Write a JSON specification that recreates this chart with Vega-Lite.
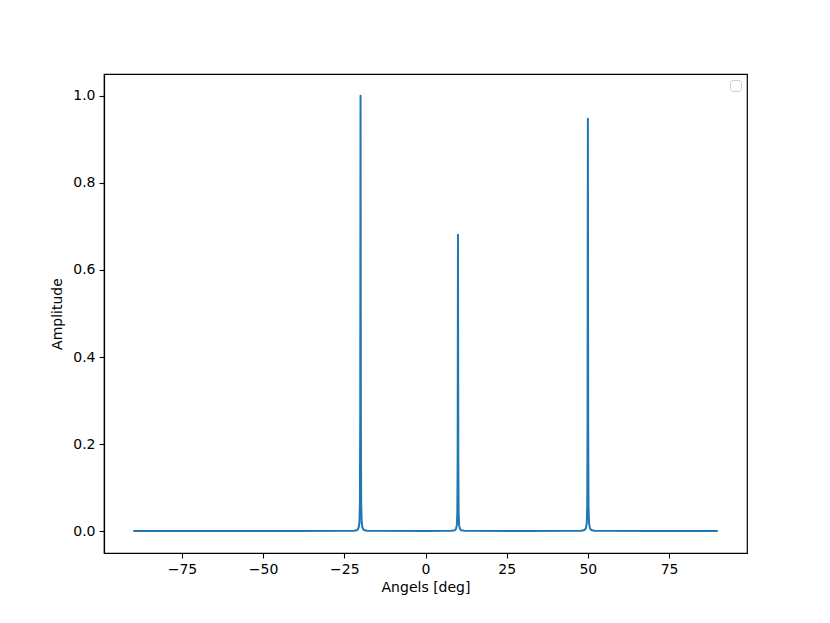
{
  "$schema": "https://vega.github.io/schema/vega-lite/v6.json",
  "autosize": "none",
  "width": 643,
  "height": 479,
  "padding": {"left": 104, "top": 74, "right": 83, "bottom": 70},
  "background": "white",
  "config": {
    "font": "DejaVu Sans",
    "view": {"stroke": "black", "strokeWidth": 1.2},
    "axis": {
      "grid": false,
      "domainColor": "black",
      "domainWidth": 1.2,
      "tickColor": "black",
      "tickWidth": 1.1,
      "tickSize": 5,
      "labelColor": "black",
      "labelFont": "DejaVu Sans",
      "labelFontSize": 14,
      "labelPadding": 4,
      "titleColor": "black",
      "titleFont": "DejaVu Sans",
      "titleFontSize": 14,
      "titleFontWeight": "normal"
    }
  },
  "data": {
    "values": [
      {"angle": -90, "amp": 0.0004},
      {"angle": -40, "amp": 0.0005},
      {"angle": -22, "amp": 0.001},
      {"angle": -21, "amp": 0.003},
      {"angle": -20.6, "amp": 0.008},
      {"angle": -20.35, "amp": 0.02},
      {"angle": -20.2, "amp": 0.06},
      {"angle": -20.1, "amp": 0.25},
      {"angle": -20, "amp": 1.0},
      {"angle": -19.9, "amp": 0.25},
      {"angle": -19.8, "amp": 0.06},
      {"angle": -19.65, "amp": 0.02},
      {"angle": -19.4, "amp": 0.008},
      {"angle": -19, "amp": 0.003},
      {"angle": -18, "amp": 0.001},
      {"angle": 0, "amp": 0.0005},
      {"angle": 8, "amp": 0.001},
      {"angle": 9, "amp": 0.002},
      {"angle": 9.4, "amp": 0.0055},
      {"angle": 9.65, "amp": 0.014},
      {"angle": 9.8, "amp": 0.041},
      {"angle": 9.9, "amp": 0.17},
      {"angle": 10, "amp": 0.681},
      {"angle": 10.1, "amp": 0.17},
      {"angle": 10.2, "amp": 0.041},
      {"angle": 10.35, "amp": 0.014},
      {"angle": 10.6, "amp": 0.0055},
      {"angle": 11, "amp": 0.002},
      {"angle": 12, "amp": 0.001},
      {"angle": 30, "amp": 0.0005},
      {"angle": 48, "amp": 0.001},
      {"angle": 49, "amp": 0.003},
      {"angle": 49.4, "amp": 0.0075},
      {"angle": 49.65, "amp": 0.019},
      {"angle": 49.8, "amp": 0.057},
      {"angle": 49.9, "amp": 0.24},
      {"angle": 50, "amp": 0.947},
      {"angle": 50.1, "amp": 0.24},
      {"angle": 50.2, "amp": 0.057},
      {"angle": 50.35, "amp": 0.019},
      {"angle": 50.6, "amp": 0.0075},
      {"angle": 51, "amp": 0.003},
      {"angle": 52, "amp": 0.001},
      {"angle": 70, "amp": 0.0005},
      {"angle": 90, "amp": 0.0004}
    ]
  },
  "mark": {"type": "line", "strokeWidth": 2, "strokeJoin": "round", "strokeCap": "butt"},
  "encoding": {
    "x": {
      "field": "angle",
      "type": "quantitative",
      "scale": {"domain": [-99, 99], "nice": false, "zero": false},
      "axis": {"values": [-75, -50, -25, 0, 25, 50, 75], "title": "Angels [deg]", "titlePadding": 4, "labelExpr": "replace(datum.label, '-', '\u2212')"}
    },
    "y": {
      "field": "amp",
      "type": "quantitative",
      "scale": {"domain": [-0.05, 1.05], "nice": false, "zero": false},
      "axis": {"values": [0, 0.2, 0.4, 0.6, 0.8, 1.0], "format": ".1f", "title": "Amplitude", "titlePadding": 8}
    },
    "color": {
      "datum": " ",
      "scale": {"range": ["#1f77b4"]},
      "legend": {
        "title": null,
        "orient": "top-right",
        "offset": 6,
        "padding": 5,
        "cornerRadius": 3,
        "strokeColor": "#cccccc",
        "fillColor": "white",
        "symbolOpacity": 0,
        "symbolSize": 1,
        "labelFontSize": 1,
        "labelOffset": 0,
        "symbolStrokeWidth": 0
      }
    }
  }
}
